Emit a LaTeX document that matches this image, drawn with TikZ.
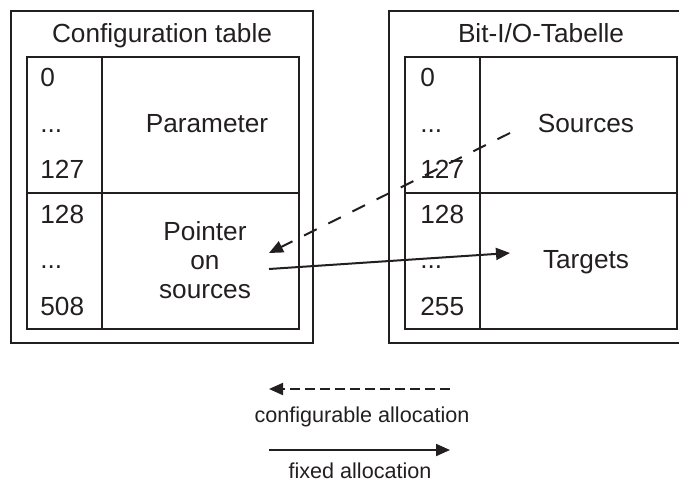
\documentclass[tikz,border=0pt]{standalone}
\usepackage{fontspec}
\setmainfont{Liberation Sans}
\usetikzlibrary{arrows.meta}
\definecolor{ink}{HTML}{231F20}
\begin{document}
\begin{tikzpicture}[x=0.5pt,y=-0.5pt,
  frame/.style={draw=ink, line width=1.25pt},
  grid/.style={draw=ink, line width=1pt},
  txt/.style={text=ink, font=\fontsize{13.1}{15}\selectfont, inner sep=0pt, anchor=base},
  num/.style={txt, anchor=base west},
  legtxt/.style={text=ink, font=\fontsize{10.8}{12.5}\selectfont, inner sep=0pt, anchor=base},
  conn/.style={draw=ink, line width=1pt, -{Triangle[length=7pt,width=6pt]}},
  cfgconn/.style={conn, dash pattern=on 7pt off 6.5pt},
  legdash/.style={conn, dash pattern=on 5pt off 2.5pt}]
\useasboundingbox (0,0) rectangle (679,481);
\clip (0,0) rectangle (679,481);

% configuration table
\draw[frame] (11,11) rectangle (313,343);
\draw[grid] (27,57) rectangle (299,329);
\draw[grid] (102,57) -- (102,329);
\draw[grid] (27,193) -- (299,193);
\node[txt] (cfgtitle) at (162,43) {Configuration table};
\node[num] (c0) at (40,87) {0};
\node[num] (c1) at (40,133) {...};
\node[num] (c2) at (40,178) {127};
\node[num] (c3) at (40,223) {128};
\node[num] (c4) at (40,268) {...};
\node[num] (c5) at (40,315) {508};
\node[txt] (param) at (207,133) {Parameter};
\node[txt] (ptr1) at (205,240) {Pointer};
\node[txt] (ptr2) at (205,269) {on};
\node[txt] (ptr3) at (205,298) {sources};

% bit I/O table
\draw[frame] (389,11) rectangle (691,343);
\draw[grid] (405,57) rectangle (677,329);
\draw[grid] (480,57) -- (480,329);
\draw[grid] (405,193) -- (677,193);
\node[txt] (iotitle) at (541,43) {Bit-I/O-Tabelle};
\node[num] (b0) at (420,87) {0};
\node[num] (b1) at (420,133) {...};
\node[num] (b2) at (420,178) {127};
\node[num] (b3) at (420,223) {128};
\node[num] (b4) at (420,268) {...};
\node[num] (b5) at (420,315) {255};
\node[txt] (src) at (586,133) {Sources};
\node[txt] (tgt) at (586,268) {Targets};

% allocations between the tables
\coordinate (ptrIn) at (269,253);
\coordinate (ptrOut) at (269,269);
\coordinate (srcEnd) at (510,133);
\coordinate (tgtEnd) at (510,253);
\draw[cfgconn] (srcEnd) -- (ptrIn);
\draw[conn] (ptrOut) -- (tgtEnd);

% legend
\coordinate (l1a) at (450,389);
\coordinate (l1b) at (269,389);
\coordinate (l2a) at (269,450);
\coordinate (l2b) at (450,450);
\draw[legdash] (l1a) -- (l1b);
\node[legtxt] (leg1) at (362,422) {configurable allocation};
\draw[conn] (l2a) -- (l2b);
\node[legtxt] (leg2) at (360,478) {fixed allocation};
\end{tikzpicture}
\end{document}
